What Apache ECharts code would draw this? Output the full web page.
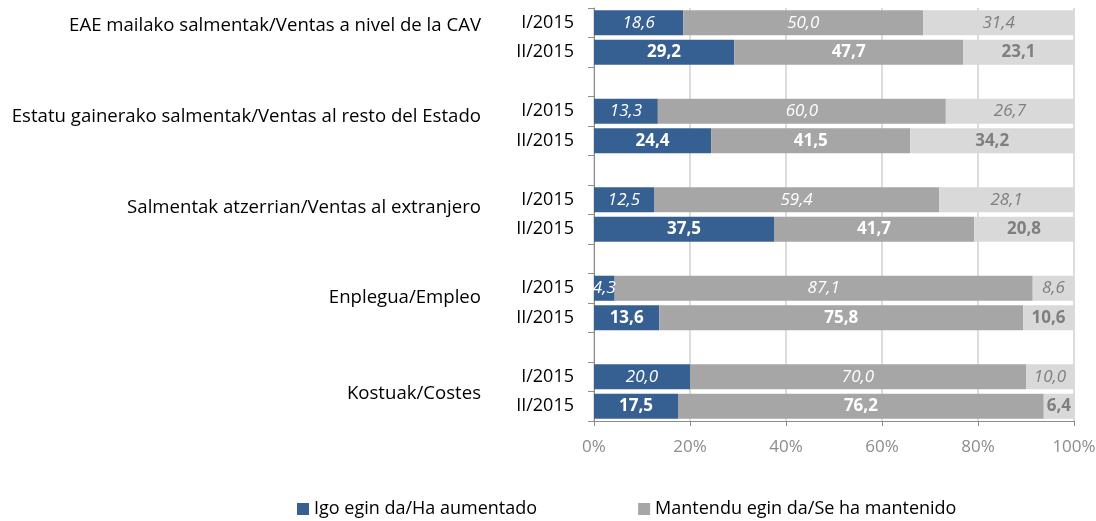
<!DOCTYPE html>
<html>
<head>
<meta charset="utf-8">
<script src="https://cdn.jsdelivr.net/npm/echarts@6/dist/echarts.min.js"></script>
<style>html,body{margin:0;padding:0;background:#fff}#chart{width:1096px;height:521px}</style>
</head>
<body>
<div id="chart"></div>
<script>
// categories (blank slots separate the groups)
var groups = ['EAE mailako salmentak/Ventas a nivel de la CAV',
              'Estatu gainerako salmentak/Ventas al resto del Estado',
              'Salmentak atzerrian/Ventas al extranjero',
              'Enplegua/Empleo',
              'Kostuak/Costes'];
var periods = ['I/2015', 'II/2015'];
var seriesNames = ['Igo egin da/Ha aumentado', 'Mantendu egin da/Se ha mantenido', 'Jaitsi egin da/Ha disminuido'];

// values per group: [I/2015, II/2015]
var aumentado = [[18.6, 29.2], [13.3, 24.4], [12.5, 37.5], [4.3, 13.6], [20.0, 17.5]];
var mantenido = [[50.0, 47.7], [60.0, 41.5], [59.4, 41.7], [87.1, 75.8], [70.0, 76.2]];
var disminuido = [[31.4, 23.1], [26.7, 34.2], [28.1, 20.8], [8.6, 10.6], [10.0, 6.4]];

var fontFam = '"Open Sans", "Liberation Sans", sans-serif';

// build 14 category slots: I, II, blank, I, II, blank ...
var cats = [];
for (var g = 0; g < groups.length; g++) {
    cats.push(periods[0]);
    cats.push(periods[1]);
    if (g < groups.length - 1) cats.push('');
}

function buildData(vals, labelColor) {
    var out = [];
    for (var g = 0; g < vals.length; g++) {
        for (var p = 0; p < 2; p++) {
            out.push({
                value: vals[g][p],
                label: {
                    fontStyle: p === 0 ? 'italic' : 'normal',
                    fontWeight: p === 0 ? 'normal' : 'bold',
                    fontSize: 17,
                    color: labelColor
                }
            });
        }
        if (g < vals.length - 1) out.push('-');
    }
    return out;
}

function fmt(p) {
    return p.value.toFixed(1).replace('.', ',');
}

var colors = ['#376092', '#a6a6a6', '#d9d9d9'];
var labelColors = ['#ffffff', '#ffffff', '#7f7f7f'];
var allVals = [aumentado, mantenido, disminuido];

var series = [];
for (var s = 0; s < 3; s++) {
    series.push({
        name: seriesNames[s],
        type: 'bar',
        stack: 'total',
        barWidth: '85%',
        itemStyle: { color: colors[s] },
        label: { show: true, position: 'inside', formatter: fmt, fontFamily: fontFam },
        data: buildData(allVals[s], labelColors[s])
    });
}

var myChart = echarts.init(document.getElementById('chart'));

// group labels on the left
var groupY = [29, 120, 211, 301, 397];
var graphics = [];
for (var g = 0; g < groups.length; g++) {
    graphics.push({
        type: 'text',
        right: 1096 - 481,
        top: groupY[g] - 13,
        style: { text: groups[g], fill: '#000', font: '18.6px ' + fontFam, textAlign: 'right' }
    });
}

option = {
    animation: false,
    grid: { left: 594, right: 22, top: 8, bottom: 100, outerBoundsMode: 'none', containLabel: false },
    legend: {
        data: [seriesNames[0], seriesNames[1]],
        bottom: -2,
        left: 292,
        itemGap: 101,
        itemWidth: 12,
        itemHeight: 12,
        icon: 'rect',
        textStyle: { fontSize: 18, color: '#000', fontFamily: fontFam }
    },
    graphic: graphics,
    xAxis: {
        type: 'value',
        min: 0, max: 100, interval: 20,
        axisLine: { show: true, lineStyle: { color: '#8c8c8c' } },
        axisTick: { show: true, length: 5, lineStyle: { color: '#8c8c8c' } },
        splitLine: { show: true, lineStyle: { color: '#d0d0d0', width: 1.5 } },
        axisLabel: { formatter: '{value}%', color: '#8c8c8c', fontSize: 17, fontFamily: fontFam, margin: 18 }
    },
    yAxis: {
        type: 'category',
        inverse: true,
        data: cats,
        axisLine: { show: true, lineStyle: { color: '#8c8c8c' } },
        axisTick: { show: true, length: 6, lineStyle: { color: '#8c8c8c' } },
        axisLabel: { color: '#000', fontSize: 18, fontFamily: fontFam, margin: 20 }
    },
    series: series
};

myChart.setOption(option);
</script>
</body>
</html>
